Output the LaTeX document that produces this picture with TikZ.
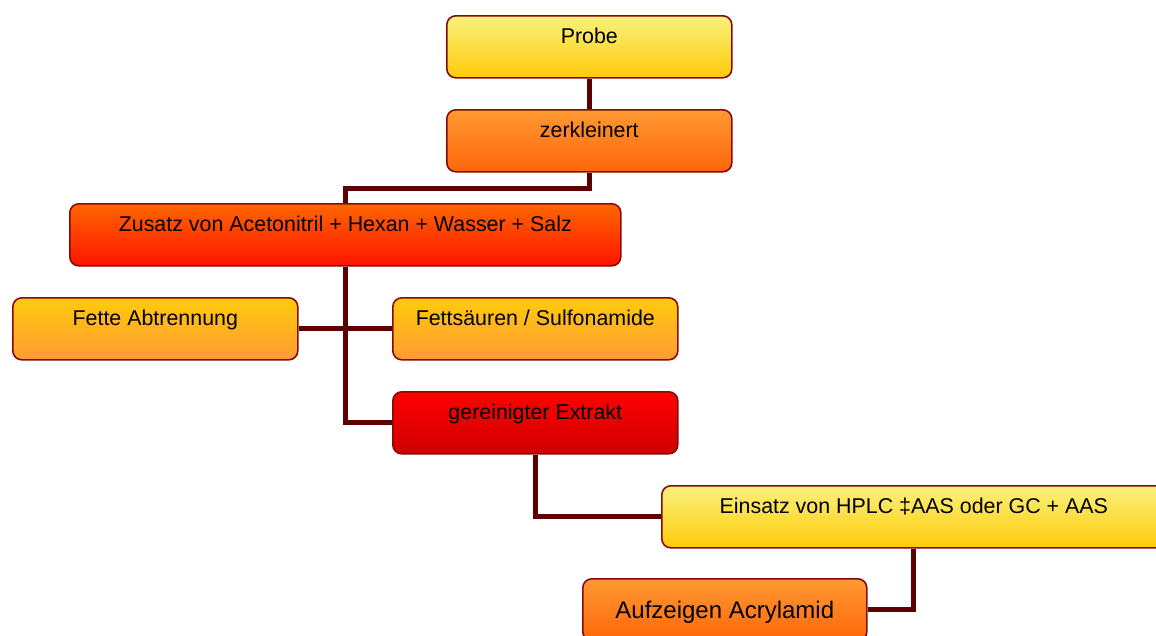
\documentclass[tikz,border=0pt]{standalone}
\usepackage{fontspec}
\setmainfont{Liberation Sans}
\definecolor{yelTop}{RGB}{249,241,125}
\definecolor{yelBot}{RGB}{255,203,8}
\definecolor{oraTop}{RGB}{255,153,51}
\definecolor{oraBot}{RGB}{255,102,10}
\definecolor{redoTop}{RGB}{255,102,0}
\definecolor{redoBot}{RGB}{255,20,0}
\definecolor{goTop}{RGB}{255,203,10}
\definecolor{goBot}{RGB}{255,155,55}
\definecolor{redTop}{RGB}{255,0,0}
\definecolor{redBot}{RGB}{206,0,0}
\definecolor{bordercol}{RGB}{135,10,10}
\definecolor{conncol}{RGB}{92,0,0}
\tikzset{
  box/.style={draw=bordercol, line width=1.6pt, rounded corners=9pt, anchor=north west,
    minimum height=62pt, inner xsep=0pt, inner ysep=0pt, text height=28pt, text depth=34pt,
    font=\fontsize{21.4pt}{25pt}\selectfont, text=black},
  yelbox/.style={box, top color=yelTop, bottom color=yelBot},
  orabox/.style={box, top color=oraTop, bottom color=oraBot},
  redobox/.style={box, top color=redoTop, bottom color=redoBot},
  gobox/.style={box, top color=goTop, bottom color=goBot},
  redbox/.style={box, top color=redTop, bottom color=redBot},
  conn/.style={draw=conncol, line width=5pt}
}
\begin{document}
\begin{tikzpicture}
\useasboundingbox (0,0) rectangle (1156pt,-635pt);
\node[yelbox, minimum width=285pt] (probe) at (446pt,-15pt) {Probe};
\node[orabox, minimum width=285pt] (zerk) at (446pt,-109pt) {zerkleinert};
\node[redobox, minimum width=551pt] (zusatz) at (69pt,-203pt) {Zusatz von Acetonitril + Hexan + Wasser + Salz};
\node[gobox, minimum width=285pt] (fette) at (12pt,-297pt) {Fette Abtrennung};
\node[gobox, minimum width=285pt] (fetts) at (392pt,-297pt) {Fettsäuren / Sulfonamide};
\node[redbox, minimum width=285pt] (ger) at (392pt,-391pt) {gereinigter Extrakt};
\node[yelbox, minimum width=504pt] (eins) at (661pt,-485pt) {Einsatz von HPLC ‡AAS oder GC + AAS};
\node[orabox, minimum width=284pt, text height=40pt, text depth=22pt, font=\fontsize{24pt}{28pt}\selectfont] (auf) at (582pt,-578pt) {Aufzeigen Acrylamid};
\draw[conn] (probe.south) -- (zerk.north);
\draw[conn] (zerk.south) -- ++(0,-16pt) -| (zusatz.north);
\draw[conn] (zusatz.south) |- (ger.west);
\draw[conn] (fette.east) -- (fetts.west);
\draw[conn] (ger.south) |- (eins.west);
\draw[conn] (eins.south) |- (auf.east);
\end{tikzpicture}
\end{document}
